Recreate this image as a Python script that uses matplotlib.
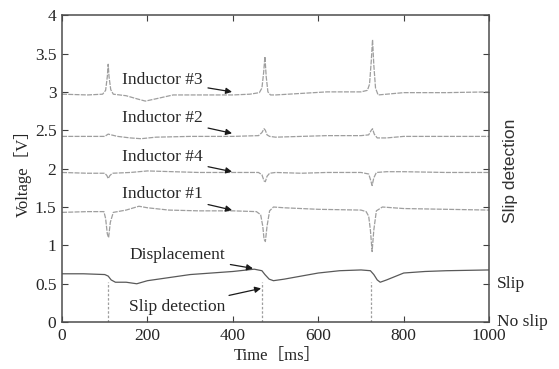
import matplotlib
matplotlib.use("Agg")
import matplotlib.pyplot as plt

plt.rcParams['font.family'] = ['Liberation Serif', 'Noto Sans CJK SC', 'DejaVu Serif']

# inductor #3 (time ms, voltage V)
t3 = [0, 60, 95, 102, 106, 108, 110, 114, 120, 150, 175, 195, 220, 260, 320, 400, 440,
      462, 468, 472, 475, 478, 482, 488, 500, 560, 620, 700, 715, 720, 724, 727, 730,
      734, 740, 760, 800, 900, 1000]
v3 = [2.97, 2.96, 2.97, 3.02, 3.2, 3.36, 3.2, 3.03, 2.97, 2.95, 2.91, 2.88, 2.91, 2.96,
      2.96, 2.96, 2.97, 2.99, 3.05, 3.25, 3.46, 3.2, 3.0, 2.96, 2.96, 2.98, 3.0, 3.0,
      3.02, 3.1, 3.4, 3.68, 3.35, 3.05, 2.96, 2.97, 2.99, 2.99, 3.0]

# inductor #2
t2 = [0, 60, 100, 108, 115, 130, 160, 185, 220, 300, 400, 460, 468, 473, 476, 480, 486,
      500, 560, 620, 700, 718, 724, 727, 731, 738, 760, 800, 900, 1000]
v2 = [2.42, 2.42, 2.42, 2.45, 2.44, 2.42, 2.40, 2.39, 2.41, 2.42, 2.42, 2.43, 2.47, 2.52,
      2.50, 2.44, 2.42, 2.41, 2.42, 2.43, 2.43, 2.44, 2.50, 2.52, 2.45, 2.40, 2.40, 2.42,
      2.42, 2.42]

# inductor #4
t4 = [0, 60, 100, 105, 108, 112, 118, 160, 200, 260, 320, 400, 460, 468, 473, 476, 480,
      486, 500, 560, 620, 700, 718, 722, 726, 730, 736, 760, 800, 900, 1000]
v4 = [1.95, 1.94, 1.94, 1.91, 1.87, 1.91, 1.94, 1.95, 1.97, 1.96, 1.95, 1.95, 1.95, 1.92,
      1.84, 1.83, 1.90, 1.94, 1.95, 1.94, 1.95, 1.95, 1.93, 1.86, 1.78, 1.88, 1.95, 1.96,
      1.96, 1.95, 1.95]

# inductor #1
t1 = [0, 60, 98, 102, 106, 109, 113, 120, 150, 180, 200, 250, 320, 400, 455, 465, 470,
      473, 476, 480, 486, 495, 520, 600, 700, 712, 718, 722, 726, 730, 736, 750, 800, 900,
      1000]
v1 = [1.43, 1.44, 1.44, 1.35, 1.15, 1.10, 1.30, 1.43, 1.46, 1.51, 1.49, 1.46, 1.45, 1.45,
      1.44, 1.40, 1.25, 1.08, 1.05, 1.25, 1.45, 1.50, 1.49, 1.47, 1.46, 1.44, 1.38, 1.20,
      0.92, 1.20, 1.45, 1.50, 1.48, 1.47, 1.46]

# displacement
td = [0, 50, 100, 108, 115, 125, 150, 175, 200, 250, 300, 350, 400, 450, 468, 475, 485,
      495, 520, 560, 600, 650, 700, 722, 730, 738, 745, 760, 800, 850, 900, 1000]
vd = [0.63, 0.63, 0.62, 0.60, 0.55, 0.52, 0.52, 0.50, 0.54, 0.58, 0.62, 0.64, 0.66, 0.69,
      0.67, 0.62, 0.56, 0.54, 0.56, 0.60, 0.64, 0.67, 0.68, 0.67, 0.62, 0.55, 0.52, 0.55,
      0.64, 0.66, 0.67, 0.68]

# slip detection pulses
slip_times = [107, 469, 723]
slip_level = 0.52

fig = plt.figure(figsize=(5.59, 3.69), dpi=100)
ax = fig.add_axes([0.111, 0.127, 0.764, 0.832])

grey = '0.62'
for t, v in [(t3, v3), (t2, v2), (t4, v4), (t1, v1)]:
    ax.plot(t, v, color=grey, lw=0.9, ls=(0, (4, 1)))
ax.plot(td, vd, color='0.35', lw=0.9)
ax.vlines(slip_times, 0, slip_level, colors=grey, lw=0.9, linestyles=(0, (2, 1.5)))

ax.set_xlim(0, 1000)
ax.set_ylim(0, 4)
ax.set_xticks([0, 200, 400, 600, 800, 1000])
ax.set_yticks([0, 0.5, 1, 1.5, 2, 2.5, 3, 3.5, 4])
ax.set_yticklabels(['0', '0.5', '1', '1.5', '2', '2.5', '3', '3.5', '4'])
ax.tick_params(direction='in', top=True, right=True, labelsize=12.5, length=4.5, width=0.8,
               colors='0.25', labelcolor='0.15', pad=4)
for s in ax.spines.values():
    s.set_color('0.3')
    s.set_linewidth(1.1)

ax.set_xlabel('Time［ms］', fontsize=12, color='0.15', labelpad=3)
ax.xaxis.set_label_coords(0.505, -0.085)
ax.set_ylabel('Voltage［V］', fontsize=12, color='0.15', labelpad=2)

# annotations
akw = dict(arrowstyle='-|>', color='0.1', lw=0.9, mutation_scale=9, shrinkA=2, shrinkB=0)
tkw = dict(fontsize=12.5, color='0.15', va='center', ha='left')
ax.annotate('Inductor #3', xy=(398, 3.0), xytext=(140, 3.15), arrowprops=akw, **tkw)
ax.annotate('Inductor #2', xy=(398, 2.46), xytext=(140, 2.66), arrowprops=akw, **tkw)
ax.annotate('Inductor #4', xy=(398, 1.96), xytext=(140, 2.15), arrowprops=akw, **tkw)
ax.annotate('Inductor #1', xy=(398, 1.46), xytext=(140, 1.67), arrowprops=akw, **tkw)
ax.annotate('Displacement', xy=(447, 0.70), xytext=(157, 0.87), arrowprops=akw, **tkw)
ax.annotate('Slip detection', xy=(466, 0.44), xytext=(157, 0.20), arrowprops=akw, **tkw)

# right side labels
ax.text(1.018, 0.5, 'Slip', transform=ax.get_yaxis_transform(), fontsize=12.5,
        color='0.15', va='center', ha='left')
ax.text(1.018, 0.0, 'No slip', transform=ax.get_yaxis_transform(), fontsize=12.5,
        color='0.15', va='center', ha='left')
ax.text(1.05, 1.97, 'Slip detection', transform=ax.get_yaxis_transform(), fontsize=12.5,
        color='0.2', va='center', ha='center', rotation=90, family='Liberation Sans')

fig.savefig('out.png', dpi=100)
